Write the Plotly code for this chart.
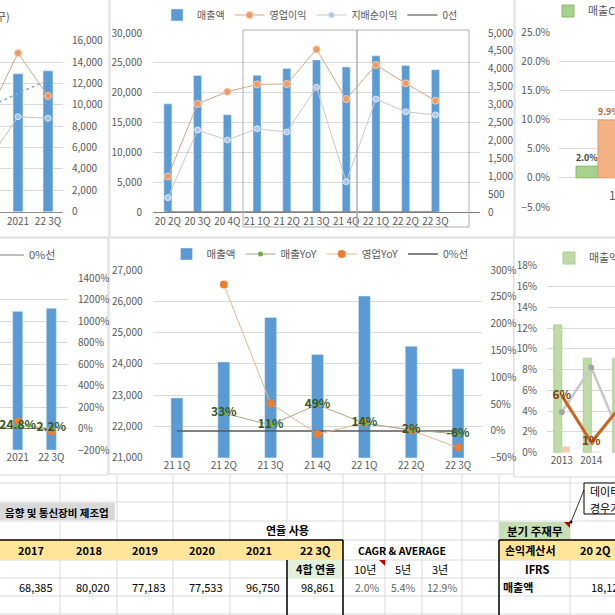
import plotly.graph_objects as go

W = H = 615
def px(x): return x / W
def py(y): return 1 - y / H

FONT = "Noto Sans CJK KR, Noto Sans, sans-serif"
GRID = "#D9D9D9"
TICK = "#595959"
BLUE = "#5B9BD5"

# ---------------- data ----------------
# top-left: annual (partially visible)
tl_cats = ["2020", "2021", "22 3Q"]
tl_sales = [77533, 96750, 98861]
tl_op = [9080, 14840, 10830]
tl_net = [4740, 8890, 8740]
tl_trend = [9790, 11050, 12320]

# top-middle: quarterly
q_cats = ["20 2Q", "20 3Q", "20 4Q", "21 1Q", "21 2Q", "21 3Q", "21 4Q", "22 1Q", "22 2Q", "22 3Q"]
q_sales = [18125, 22880, 16300, 22910, 24060, 25480, 24300, 26170, 24560, 23840]
q_op = [990, 3020, 3360, 3565, 3575, 4545, 3155, 4105, 3595, 3110]
q_net = [400, 2290, 2010, 2325, 2235, 3485, 845, 3155, 2800, 2710]
q_zero = [0] * 10

# top-right: CAGR
cagr_cats = ["10년", "5년", "3년"]
cagr_sales = [2.0, 5.4, 12.9]
cagr_op = [9.9]

# bottom-left: annual YoY
bl_cats = ["2020", "2021", "22 3Q"]
bl_sales = [77533, 96750, 98861]
bl_sales_yoy = [0.5, 24.8, 2.2]
bl_op_yoy = [None, 63, -27]
bl_zero = [0, 0, 0]

# bottom-middle: quarterly YoY
bm_cats = q_cats[3:]
bm_sales = q_sales[3:]
bm_sales_yoy = [None, 33, 11, 49, 14, 2, -6]
bm_op_yoy = [None, 273, 51, -6, 15, 1, -31]
bm_zero = [0] * 7

# bottom-right: margins
br_cats = ["2013", "2014", "2015"]
br_green = [12.3, 9.1, 9.1]
br_salmon = [0.6, 0.1, 0.3]
br_gray = [3.9, 8.2, 1.5]
br_orange = [5.5, 1.0, 4.5]
br_orange_labels = ["6%", "1%", ""]

# table
tbl_years = ["2017", "2018", "2019", "2020", "2021", "22 3Q"]
tbl_sales = [68385, 80020, 77183, 77533, 96750, 98861]
cagr_values = [2.0, 5.4, 12.9]

fig = go.Figure()

# ---------------- traces ----------------
# TL
fig.add_trace(go.Bar(x=tl_cats, y=tl_sales, xaxis="x", yaxis="y", marker_color=BLUE,
                     width=0.33, offset=-0.165, showlegend=False))
fig.add_trace(go.Scatter(x=tl_cats, y=tl_trend, xaxis="x", yaxis="y2", mode="lines",
                         line=dict(color="#8FAADC", width=1.6, dash="dot"), showlegend=False))
fig.add_trace(go.Scatter(x=tl_cats, y=tl_net, xaxis="x", yaxis="y2", mode="lines+markers",
                         line=dict(color="#BFBFBF", width=1),
                         marker=dict(size=6, color="#9DC3E6", line=dict(color="#DEEBF7", width=1)),
                         showlegend=False))
fig.add_trace(go.Scatter(x=tl_cats, y=tl_op, xaxis="x", yaxis="y2", mode="lines+markers",
                         line=dict(color="#D9A58A", width=1),
                         marker=dict(size=7, color="#EE9A62", line=dict(color="#F8CBAD", width=1)),
                         showlegend=False))

# TM
fig.add_trace(go.Bar(x=q_cats, y=q_sales, xaxis="x2", yaxis="y3", marker_color=BLUE,
                     width=0.27, offset=-0.135, name="매출액", legend="legend", legendrank=1))
fig.add_trace(go.Scatter(x=q_cats, y=q_zero, xaxis="x2", yaxis="y4", mode="lines",
                         line=dict(color="#7F7F7F", width=1.5), name="0선", legend="legend", legendrank=4))
fig.add_trace(go.Scatter(x=q_cats, y=q_net, xaxis="x2", yaxis="y4", mode="lines+markers",
                         line=dict(color="#C9C9C9", width=1),
                         marker=dict(size=6, color="#B4C7E7", line=dict(color="#DEEBF7", width=1)),
                         name="지배순이익", legend="legend", legendrank=3))
fig.add_trace(go.Scatter(x=q_cats, y=q_op, xaxis="x2", yaxis="y4", mode="lines+markers",
                         line=dict(color="#D9A58A", width=1),
                         marker=dict(size=7, color="#EE9A62", line=dict(color="#F8CBAD", width=1)),
                         name="영업이익", legend="legend", legendrank=2))

# TR
fig.add_trace(go.Bar(x=cagr_cats, y=cagr_sales, xaxis="x3", yaxis="y5",
                     marker=dict(color="#A9D18E", line=dict(color="#8DB86B", width=1)),
                     width=0.2, offset=-0.4, name="매출CAGR", legend="legend2",
                     texttemplate="<b>%{y:.1f}%</b>", textposition="outside", cliponaxis=False,
                     textfont=dict(size=11, color="#404040")))
fig.add_trace(go.Bar(x=cagr_cats[:1], y=cagr_op, xaxis="x3", yaxis="y5",
                     marker=dict(color="#F4B183", line=dict(color="#E89A6A", width=1)),
                     width=0.2, offset=-0.2, showlegend=False,
                     texttemplate="<b>%{y:.1f}%</b>", textposition="outside", cliponaxis=False,
                     textfont=dict(size=11, color="#C55A11")))

# BL
fig.add_trace(go.Bar(x=bl_cats, y=bl_sales, xaxis="x4", yaxis="y6", marker_color=BLUE,
                     width=0.3, offset=-0.15, showlegend=False))
fig.add_trace(go.Scatter(x=bl_cats, y=bl_zero, xaxis="x4", yaxis="y7", mode="lines",
                         line=dict(color="#7F7F7F", width=1.2), name="0%선", legend="legend3"))
fig.add_trace(go.Scatter(x=bl_cats, y=bl_op_yoy, xaxis="x4", yaxis="y7", mode="lines+markers",
                         line=dict(color="#F4B183", width=1), marker=dict(size=8, color="#ED7D31"),
                         showlegend=False))
fig.add_trace(go.Scatter(x=bl_cats, y=bl_sales_yoy, xaxis="x4", yaxis="y7", mode="lines+markers+text",
                         line=dict(color="#A9C98E", width=1), marker=dict(size=5, color="#70AD47"),
                         texttemplate="<b>%{y:.1f}%</b>", textposition="middle center",
                         textfont=dict(size=12, color="#375623"), showlegend=False))

# BM
fig.add_trace(go.Bar(x=bm_cats, y=bm_sales, xaxis="x5", yaxis="y8", marker_color=BLUE,
                     width=0.255, offset=-0.1275, name="매출액", legend="legend4", legendrank=1))
fig.add_trace(go.Scatter(x=bm_cats, y=bm_zero, xaxis="x5", yaxis="y9", mode="lines",
                         line=dict(color="#595959", width=1.5), name="0%선", legend="legend4", legendrank=4))
fig.add_trace(go.Scatter(x=bm_cats, y=bm_op_yoy, xaxis="x5", yaxis="y9", mode="lines+markers",
                         line=dict(color="#E6B48F", width=1), marker=dict(size=8, color="#ED7D31"),
                         name="영업YoY", legend="legend4", legendrank=3))
fig.add_trace(go.Scatter(x=bm_cats, y=bm_sales_yoy, xaxis="x5", yaxis="y9", mode="lines+markers+text",
                         line=dict(color="#A8A88C", width=1), marker=dict(size=5, color="#70AD47"),
                         texttemplate="<b>%{y:.0f}%</b>", textposition="middle center",
                         textfont=dict(size=12, color="#375623"),
                         name="매출YoY", legend="legend4", legendrank=2))

# BR
fig.add_trace(go.Bar(x=br_cats, y=br_green, xaxis="x6", yaxis="y10",
                     marker=dict(color="#BDDBA5", line=dict(color="#A9D18E", width=1)),
                     width=0.27, offset=-0.27, name="매출액", legend="legend5"))
fig.add_trace(go.Bar(x=br_cats, y=br_salmon, xaxis="x6", yaxis="y10",
                     marker=dict(color="#F8CBAD"), width=0.27, offset=0, showlegend=False))
fig.add_trace(go.Scatter(x=br_cats, y=br_gray, xaxis="x6", yaxis="y10", mode="lines+markers",
                         line=dict(color="#C8C8C8", width=2.5), marker=dict(size=6, color="#A5A5A5"),
                         showlegend=False))
fig.add_trace(go.Scatter(x=br_cats, y=br_orange, xaxis="x6", yaxis="y10", mode="lines+text",
                         line=dict(color="#C9651E", width=3),
                         text=br_orange_labels, texttemplate="<b>%{text}</b>", textposition="middle center",
                         textfont=dict(size=12, color="#843C0C"), showlegend=False))

# ---------------- axes ----------------
def ax(**kw):
    d = dict(showgrid=False, zeroline=False, showline=False, ticks="", fixedrange=True,
             tickfont=dict(size=10, color=TICK, family=FONT))
    d.update(kw)
    return d

lay = {}
# TL
lay["xaxis"] = ax(domain=[0, px(63)], anchor="y", type="category", categoryarray=tl_cats,
                  range=[0.4, 2.5], showline=True, linecolor="#8C8C8C", linewidth=1)
lay["yaxis"] = ax(domain=[py(211.7), py(40.7)], anchor="x", range=[0, 120000], visible=False)
lay["yaxis2"] = ax(overlaying="y", side="right", anchor="x", range=[0, 16000], dtick=2000,
                   tickformat=",d", showgrid=True, gridcolor=GRID, ticklabelstandoff=8)
# TM
lay["xaxis2"] = ax(domain=[px(153), px(480)], anchor="y3", type="category", categoryarray=q_cats,
                   range=[-0.5, 10.5], showline=True, linecolor="#7F7F7F", linewidth=1.2)
lay["yaxis3"] = ax(domain=[py(212), py(33)], anchor="x2", range=[0, 30000], dtick=5000,
                   tickformat=",d", showgrid=True, gridcolor=GRID, ticklabelstandoff=10)
lay["yaxis4"] = ax(overlaying="y3", side="right", anchor="x2", range=[0, 5000], dtick=500,
                   tickformat=",d", ticklabelstandoff=7)
# TR
lay["xaxis3"] = ax(domain=[px(559), 1], anchor="y5", type="category", categoryarray=cagr_cats,
                   range=[-0.555, -0.045], showticklabels=False)
lay["yaxis5"] = ax(domain=[py(207), py(32)], anchor="x3", range=[-5, 25], dtick=5,
                   tickformat=".1f", ticksuffix="%", showgrid=True, gridcolor=GRID, ticklabelstandoff=8)
# BL
lay["xaxis4"] = ax(domain=[0, px(68)], anchor="y6", type="category", categoryarray=bl_cats,
                   range=[0.473, 2.497])
lay["yaxis6"] = ax(domain=[py(450), py(278)], anchor="x4", range=[0, 120000], visible=False)
lay["yaxis7"] = ax(overlaying="y6", side="right", anchor="x4", range=[-200, 1400], dtick=200,
                   ticksuffix="%", showgrid=True, gridcolor=GRID, ticklabelstandoff=9)
# BM
lay["xaxis5"] = ax(domain=[px(153.5), px(481.5)], anchor="y8", type="category", categoryarray=bm_cats,
                   range=[-0.5, 6.5])
lay["yaxis8"] = ax(domain=[py(457.7), py(270)], anchor="x5", range=[21000, 27000], dtick=1000,
                   tickformat=",d", showgrid=True, gridcolor=GRID, ticklabelstandoff=10)
lay["yaxis9"] = ax(overlaying="y8", side="right", anchor="x5", range=[-50, 300], dtick=50,
                   ticksuffix="%", ticklabelstandoff=8)
# BR
lay["xaxis6"] = ax(domain=[px(547), 1], anchor="y10", type="category", categoryarray=br_cats,
                   range=[-0.5, 1.805])
lay["yaxis10"] = ax(domain=[py(452.7), py(265.7)], anchor="x6", range=[0, 18], dtick=2,
                    ticksuffix="%", showgrid=True, gridcolor=GRID, ticklabelstandoff=9)

# ---------------- legends ----------------
def leg(x, y, xanchor="left", size=11):
    return dict(orientation="h", x=x, y=y, xanchor=xanchor, yanchor="middle",
                font=dict(size=size, color=TICK, family=FONT), bgcolor="rgba(0,0,0,0)",
                itemwidth=30, tracegroupgap=0)

lay["legend"] = leg(px(310), py(15), "center", 10)
lay["legend2"] = leg(px(548), py(11))
lay["legend3"] = leg(px(-11), py(255))
lay["legend4"] = leg(px(320), py(254), "center", 10.5)
lay["legend5"] = leg(px(549), py(258))

# ---------------- shapes ----------------
shapes = []
def rect(x0, y0, x1, y1, fill=None, line=None, lw=1, layer="below"):
    shapes.append(dict(type="rect", xref="paper", yref="paper",
                       x0=px(x0), x1=px(x1), y0=py(y0), y1=py(y1),
                       fillcolor=fill if fill else "rgba(0,0,0,0)",
                       line=dict(color=line if line else "rgba(0,0,0,0)", width=lw if line else 0),
                       layer=layer))
def hline(y, x0, x1, color, lw=1, layer="below"):
    shapes.append(dict(type="line", xref="paper", yref="paper", x0=px(x0), x1=px(x1),
                       y0=py(y), y1=py(y), line=dict(color=color, width=lw), layer=layer))
def vline(x, y0, y1, color, lw=1, layer="below"):
    shapes.append(dict(type="line", xref="paper", yref="paper", x0=px(x), x1=px(x),
                       y0=py(y0), y1=py(y1), line=dict(color=color, width=lw), layer=layer))

SHEET = "#DADADA"
for yy in [483, 502, 521, 540, 560, 578, 596, 614]:
    hline(yy, 0, 615, SHEET)
for xx in [60, 117, 173, 230, 287, 343, 385, 422, 462, 499, 570]:
    vline(xx, 465, 615, SHEET)

# chart panels
PANEL = "#D9D9D9"
rect(-1, -1, 109, 237, "white", PANEL)
rect(110, -1, 514, 237, "white", PANEL)
rect(515, -1, 616, 237, "white", PANEL)
rect(-1, 238, 108, 475, "white", PANEL)
rect(109, 238, 514, 474, "white", PANEL)
rect(514, 238, 616, 477, "white", PANEL)

# TM highlight boxes
rect(243, 30, 357, 227, None, "#AFAFAF", 1, "above")
rect(357, 30, 469, 227, None, "#AFAFAF", 1, "above")

# table fills
rect(0, 503, 115, 520, "#D9D9D9")
rect(0, 540, 343, 560, "#FFE59A")
rect(499, 540, 616, 560, "#FFE59A")
rect(287, 560, 343, 578, "#E2EFDA")
rect(499, 522, 570, 540, "#C6E0B4")
# thick borders
hline(540, 0, 343, "#000000", 1.5, "above")
hline(540, 499, 616, "#000000", 1.5, "above")
vline(287, 560, 616, "#000000", 1.5, "above")
vline(343, 540, 616, "#000000", 1.5, "above")
vline(499, 540, 616, "#000000", 1.5, "above")
# comment indicators
for (cx, cy) in [(385, 560), (570, 522)]:
    shapes.append(dict(type="path", xref="paper", yref="paper",
                       path=f"M {px(cx-6)} {py(cy)} L {px(cx)} {py(cy)} L {px(cx)} {py(cy+6)} Z",
                       fillcolor="#C00000", line=dict(width=0), layer="above"))
# comment box + arrow
rect(584, 483, 620, 514, "white", "#000000", 1, "above")
shapes.append(dict(type="line", xref="paper", yref="paper", x0=px(584), y0=py(490),
                   x1=px(571), y1=py(522), line=dict(color="#000000", width=0.8), layer="above"))
shapes.append(dict(type="circle", xref="paper", yref="paper", x0=px(569.5), x1=px(572.5),
                   y0=py(520.5), y1=py(523.5), fillcolor="#000000", line=dict(width=0), layer="above"))

# ---------------- annotations ----------------
ann = []
def txt(x, y, s, size=11, color="#000000", xanchor="center", bold=False):
    ann.append(dict(xref="paper", yref="paper", x=px(x), y=py(y), text=f"<b>{s}</b>" if bold else s,
                    showarrow=False, xanchor=xanchor, yanchor="middle",
                    font=dict(size=size, color=color, family=FONT)))

txt(12, 16, "구)", 11, TICK, "right")
# TR category label (cut off at the edge)
ann.append(dict(xref="paper", yref="paper", x=px(621), y=py(184), text=cagr_cats[0],
                showarrow=False, xanchor="center", yanchor="top",
                font=dict(size=12, color=TICK, family=FONT)))

txt(57, 512, "음향 및 통신장비 제조업", 10.5, bold=True)
txt(287, 530, "연율 사용", 11, bold=True)
col_centers = [31.5, 88.5, 145, 201.5, 258.5, 315]
col_right = [55, 111.5, 168, 224.5, 281.5, 337]
for c, yr in zip(col_centers, tbl_years):
    txt(c, 550, yr, 11, bold=True)
txt(315, 569, "4합 연율", 11, bold=True)
for r, v in zip(col_right, tbl_sales):
    txt(r, 587, f"{v:,}", 11, "#000000", "right")
txt(402, 550, "CAGR & AVERAGE", 10.5, bold=True)
for c, lab in zip([365, 403, 440], cagr_cats):
    txt(c, 569, lab, 11)
for r, v in zip([382, 418, 459], cagr_values):
    txt(r, 587, f"{v:.1f}%", 10.5, "#666666", "right")
txt(535, 531, "분기 주재무", 11.5, bold=True)
txt(530, 550, "손익계산서", 11, bold=True)
txt(595, 550, q_cats[0], 11, bold=True)
txt(537, 569, "IFRS", 11, bold=True)
txt(501, 587, "매출액", 11, xanchor="left", bold=True)
txt(627, 587, f"{q_sales[0]:,}", 11, "#000000", "right")
txt(588, 491, "데이터", 11, xanchor="left")
txt(588, 508, "경우가", 11, xanchor="left")

fig.update_layout(
    width=W, height=H, margin=dict(l=0, r=0, t=0, b=0, autoexpand=False),
    paper_bgcolor="white", plot_bgcolor="rgba(0,0,0,0)",
    font=dict(family=FONT, size=10, color=TICK),
    barmode="overlay", shapes=shapes, annotations=ann, **lay
)

fig.write_html("out.html", config={"displayModeBar": False},
               post_script="document.body.style.margin='0';document.body.style.padding='0';"
                           "document.body.style.overflow='hidden';")
